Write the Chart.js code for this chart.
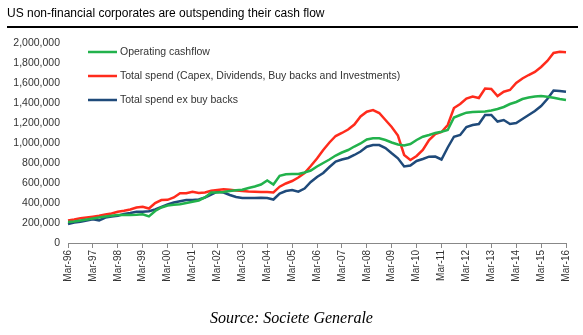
<!DOCTYPE html>
<html>
<head>
<meta charset="utf-8">
<script src="https://cdn.jsdelivr.net/npm/chart.js@4.4.0/dist/chart.umd.min.js"></script>
<style>
  html, body { margin: 0; padding: 0; background: #fff; }
  #wrap { position: relative; width: 583px; height: 335px; }
  #title { position: absolute; left: 7px; top: 6px; font: 12px "Liberation Sans", Arial, sans-serif; color: #000; }
  #rule { position: absolute; left: 7px; top: 26px; width: 571px; border-top: 2px solid #000; }
  #source { position: absolute; left: 0; top: 309px; width: 583px; text-align: center; font: italic 16px "Liberation Serif", serif; color: #000; }
  canvas { position: absolute; left: 0; top: 0; }
</style>
</head>
<body>
<div id="wrap">
  <canvas id="chart" width="583" height="335"></canvas>
  <div id="title">US non-financial corporates are outspending their cash flow</div>
  <div id="rule"></div>
  <div id="source">Source: Societe Generale</div>
</div>
<script>
    // ---------------------------
    // Data (quarterly, Mar-96 .. Mar-16), values in thousands
    // ---------------------------
    const years = ["96","97","98","99","00","01","02","03","04","05","06","07","08","09","10","11","12","13","14","15","16"];
    const months = ["Mar","Jun","Sep","Dec"];

    const operatingCashflow = [
      210, 215, 225, 235, 245, 255, 265, 272, 280, 280,
      280, 282, 287, 266, 320, 355, 375, 382, 388, 400,
      413, 425, 455, 505, 505, 510, 520, 528, 532, 550,
      565, 585, 625, 585, 672, 688, 690, 690, 705, 725,
      765, 800, 835, 875, 905, 930, 965, 995, 1035, 1047,
      1047, 1030, 1005, 985, 975, 990, 1030, 1063, 1080, 1100,
      1113, 1130, 1255, 1280, 1303, 1310, 1313, 1315, 1325, 1340,
      1360, 1390, 1410, 1440, 1455, 1465, 1470, 1463, 1452, 1440,
      1430
    ];
    const totalSpend = [
      225, 235, 247, 255, 263, 272, 285, 295, 313, 322,
      335, 355, 362, 345, 400, 430, 432, 455, 497, 497,
      513, 500, 505, 523, 530, 537, 532, 525, 520, 515,
      512, 510, 510, 505, 563, 595, 620, 655, 700, 770,
      845, 930, 1005, 1070, 1100, 1135, 1185, 1265, 1313, 1330,
      1300, 1230, 1160, 1075, 880, 830, 870, 930, 1030, 1090,
      1110, 1180, 1350, 1390, 1445, 1465, 1450, 1545, 1540, 1470,
      1513, 1530, 1600, 1645, 1680, 1710, 1760, 1820, 1900, 1912,
      1907
    ];
    const totalSpendExBuybacks = [
      190, 205, 213, 225, 237, 225, 255, 265, 273, 290,
      300, 313, 313, 318, 335, 360, 385, 405, 418, 430,
      430, 435, 455, 485, 513, 505, 480, 460, 450, 450,
      450, 452, 450, 435, 495, 520, 530, 513, 545, 610,
      660, 700, 760, 815, 835, 850, 880, 915, 963, 980,
      980, 950, 897, 847, 765, 775, 820, 840, 863, 865,
      835, 955, 1063, 1080, 1160, 1180, 1190, 1280, 1280, 1215,
      1230, 1190, 1200, 1240, 1280, 1320, 1370, 1440, 1525, 1520,
      1513
    ];

    const quarterLabels = [];
    years.forEach(y => months.forEach(m => quarterLabels.push(m + "-" + y)));
    quarterLabels.length = operatingCashflow.length; // ends at Mar-16

    // ---------------------------
    // Legend drawn inside the plot
    // ---------------------------
    const insideLegend = {
      id: "insideLegend",
      afterDatasetsDraw(chart) {
        const ctx = chart.ctx;
        ctx.save();
        ctx.font = '10.5px "Liberation Sans", Arial, sans-serif';
        ctx.textBaseline = "middle";
        chart.data.datasets.forEach((ds, i) => {
          const y = 52 + i * 24;
          ctx.strokeStyle = ds.borderColor;
          ctx.lineWidth = 2.5;
          ctx.beginPath();
          ctx.moveTo(88, y);
          ctx.lineTo(117, y);
          ctx.stroke();
          ctx.fillStyle = "#333";
          ctx.fillText(ds.label, 120, y);
        });
        ctx.restore();
      }
    };

    Chart.defaults.font.family = '"Liberation Sans", Arial, sans-serif';

    new Chart(document.getElementById("chart"), {
      type: "line",
      data: {
        labels: quarterLabels,
        datasets: [
          { label: "Operating cashflow", data: operatingCashflow, borderColor: "#22b24c" },
          { label: "Total spend (Capex, Dividends, Buy backs and Investments)", data: totalSpend, borderColor: "#ff2b1c" },
          { label: "Total spend ex buy backs", data: totalSpendExBuybacks, borderColor: "#1f4a7a" }
        ]
      },
      options: {
        responsive: false,
        animation: false,
        layout: { padding: { top: 43, right: 17, left: 0, bottom: 0 } },
        elements: { point: { radius: 0 }, line: { borderWidth: 2.5, tension: 0 } },
        plugins: { legend: { display: false }, tooltip: { enabled: false } },
        scales: {
          x: {
            offset: false,
            grid: { display: true, drawOnChartArea: false, tickLength: 5, color: "#888" },
            border: { display: true, color: "#888" },
            ticks: {
              autoSkip: false, maxRotation: 90, minRotation: 90, padding: 2,
              color: "#333", font: { size: 10 },
              callback: (v, i) => quarterLabels[i].startsWith("Mar") ? quarterLabels[i] : null
            },
            afterFit: s => { s.height = 92; }
          },
          y: {
            min: 0, max: 2000,
            grid: { display: false, drawTicks: false },
            border: { display: false },
            ticks: {
              stepSize: 200, padding: 8, color: "#333", font: { size: 10.5 },
              callback: v => (v * 1000).toLocaleString("en-US")
            },
            afterFit: s => { s.width = 68; }
          }
        }
      },
      plugins: [insideLegend]
    });
</script>
</body>
</html>
